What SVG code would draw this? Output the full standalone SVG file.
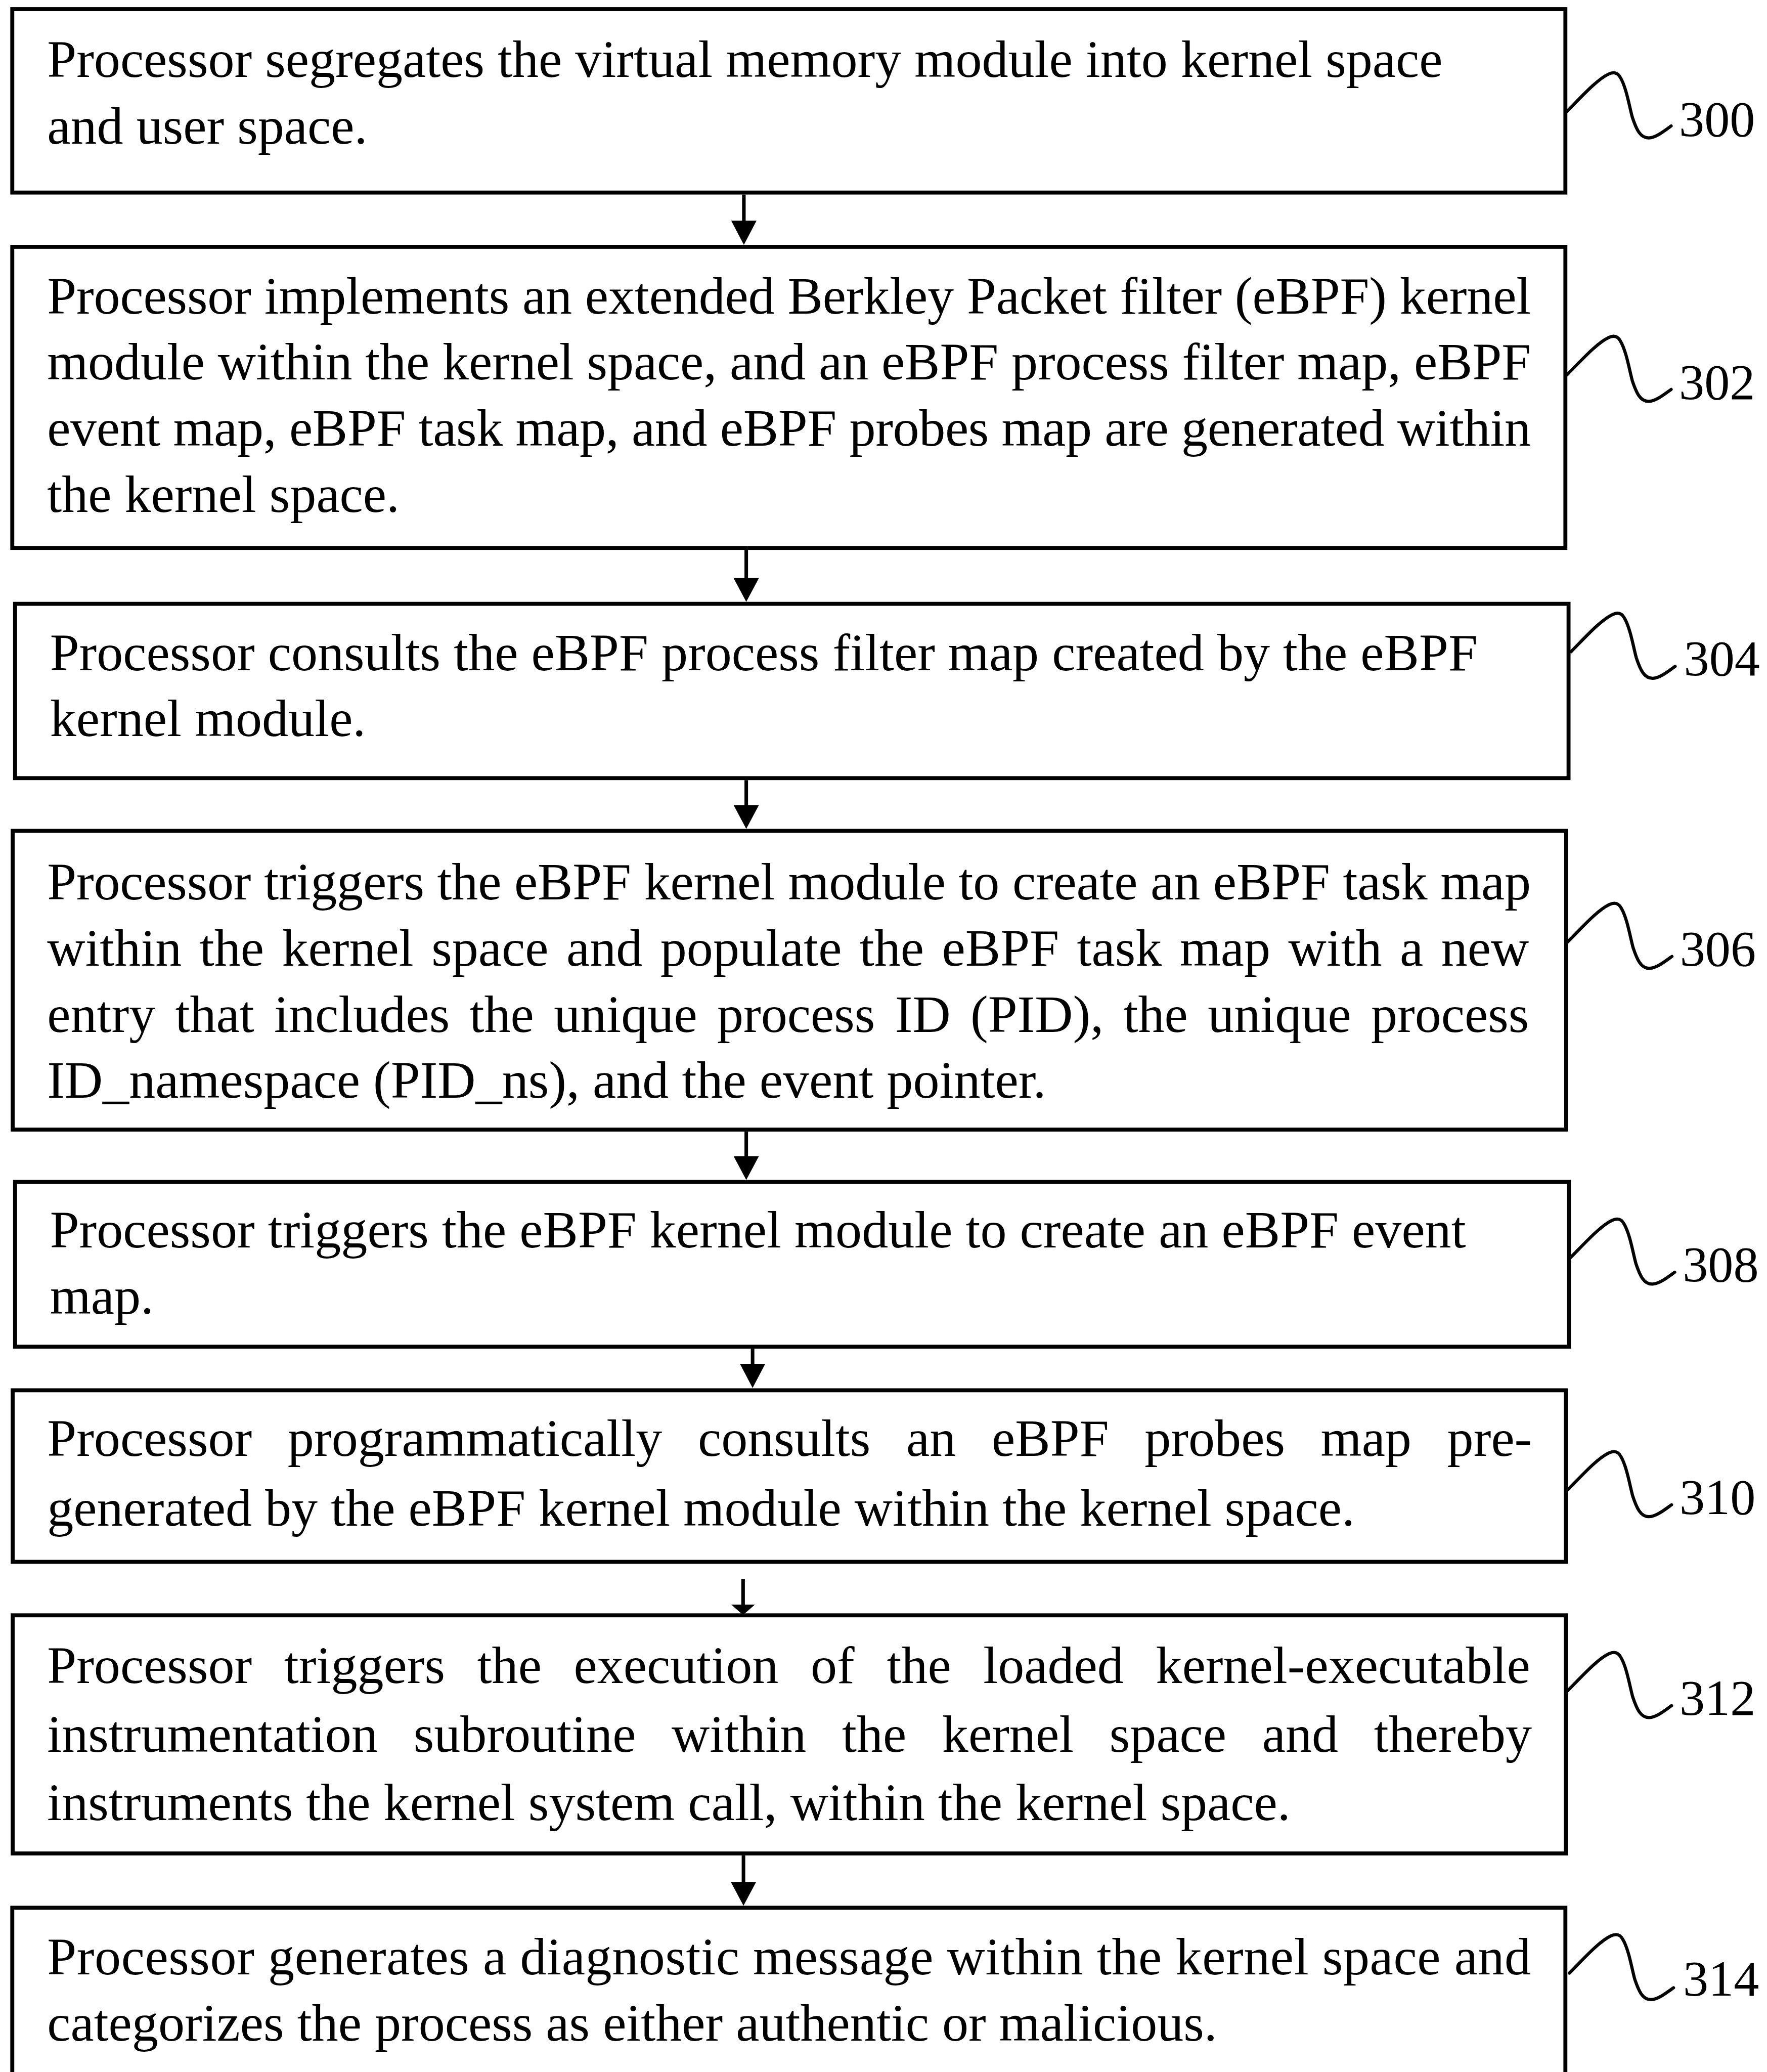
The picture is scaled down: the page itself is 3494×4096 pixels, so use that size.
<svg xmlns="http://www.w3.org/2000/svg" width="3494" height="4096" viewBox="0 0 3494 4096">
<style>
.box{fill:none;stroke:#000;stroke-width:10}
.t{font-family:"Liberation Serif","Times New Roman",serif;font-size:133px;fill:#000}
.lbl{font-family:"Liberation Serif","Times New Roman",serif;font-size:128px;fill:#000}
.sq{fill:none;stroke:#000;stroke-width:8;stroke-linecap:round;stroke-linejoin:round}
.shaft{stroke:#000;stroke-width:9;fill:none}
.head{fill:#000;stroke:none}
</style>
<defs>
<path id="squig" d="M0,0 C35,-35 75,-80 105,-94 C118,-100 128,-98 135,-85 C150,-60 158,-10 165,15 C175,45 185,68 207,67 C225,66 245,50 263,37"/>
</defs>
<rect width="3494" height="4096" fill="#fff"/>
<g transform="scale(0.78323)">
<g id="node-300">
<rect class="box" x="31" y="23" width="3921" height="463"/>
<text class="t" x="119" y="194">Processor segregates the virtual memory module into kernel space</text>
<text class="t" x="119" y="362">and user space.</text>
<use href="#squig" class="sq" transform="translate(3956,281)"/>
<text class="lbl" x="4239" y="344">300</text>
</g>
<g id="node-302">
<rect class="box" x="31" y="623" width="3921" height="760"/>
<text class="t" x="119" y="791" textLength="3746" lengthAdjust="spacing">Processor implements an extended Berkley Packet filter (eBPF) kernel</text>
<text class="t" x="119" y="958" textLength="3746" lengthAdjust="spacing">module within the kernel space, and an eBPF process filter map, eBPF</text>
<text class="t" x="119" y="1125" textLength="3746" lengthAdjust="spacing">event map, eBPF task map, and eBPF probes map are generated within</text>
<text class="t" x="119" y="1292">the kernel space.</text>
<use href="#squig" class="sq" transform="translate(3956,946)"/>
<text class="lbl" x="4239" y="1007">302</text>
</g>
<g id="node-304">
<rect class="box" x="38" y="1524" width="3922" height="440"/>
<text class="t" x="126" y="1692">Processor consults the eBPF process filter map created by the eBPF</text>
<text class="t" x="126" y="1858">kernel module.</text>
<use href="#squig" class="sq" transform="translate(3966,1645)"/>
<text class="lbl" x="4251" y="1705">304</text>
</g>
<g id="node-306">
<rect class="box" x="32" y="2097" width="3922" height="754"/>
<text class="t" x="119" y="2270" textLength="3746" lengthAdjust="spacing">Processor triggers the eBPF kernel module to create an eBPF task map</text>
<text class="t" x="119" y="2437" word-spacing="12">within the kernel space and populate the eBPF task map with a new</text>
<text class="t" x="119" y="2604" word-spacing="17">entry that includes the unique process ID (PID), the unique process</text>
<text class="t" x="119" y="2771">ID_namespace (PID_ns), and the event pointer.</text>
<use href="#squig" class="sq" transform="translate(3958,2377)"/>
<text class="lbl" x="4241" y="2437">306</text>
</g>
<g id="node-308">
<rect class="box" x="38" y="2983" width="3923" height="416"/>
<text class="t" x="126" y="3149">Processor triggers the eBPF kernel module to create an eBPF event</text>
<text class="t" x="126" y="3316">map.</text>
<use href="#squig" class="sq" transform="translate(3965,3174)"/>
<text class="lbl" x="4248" y="3234">308</text>
</g>
<g id="node-310">
<rect class="box" x="32" y="3509" width="3921" height="433"/>
<text class="t" x="119" y="3675" word-spacing="57">Processor programmatically consults an eBPF probes map pre-</text>
<text class="t" x="119" y="3851">generated by the eBPF kernel module within the kernel space.</text>
<use href="#squig" class="sq" transform="translate(3957,3761)"/>
<text class="lbl" x="4240" y="3821">310</text>
</g>
<g id="node-312">
<rect class="box" x="32" y="4077" width="3921" height="601"/>
<text class="t" x="119" y="4248" word-spacing="48">Processor triggers the execution of the loaded kernel-executable</text>
<text class="t" x="119" y="4421" word-spacing="57">instrumentation subroutine within the kernel space and thereby</text>
<text class="t" x="119" y="4594">instruments the kernel system call, within the kernel space.</text>
<use href="#squig" class="sq" transform="translate(3957,4268)"/>
<text class="lbl" x="4240" y="4328">312</text>
</g>
<g id="node-314">
<rect class="box" x="31" y="4815" width="3921" height="600"/>
<text class="t" x="119" y="4983" textLength="3746" lengthAdjust="spacing">Processor generates a diagnostic message within the kernel space and</text>
<text class="t" x="119" y="5150">categorizes the process as either authentic or malicious.</text>
<use href="#squig" class="sq" transform="translate(3962,4980)"/>
<text class="lbl" x="4249" y="5037">314</text>
</g>
<g id="connectors">
<line class="shaft" x1="1878" y1="491" x2="1878" y2="560"/>
<path class="head" d="M1846,557 L1910,557 L1878,618 Z"/>
<line class="shaft" x1="1884" y1="1388" x2="1884" y2="1462"/>
<path class="head" d="M1852,1459 L1916,1459 L1884,1519 Z"/>
<line class="shaft" x1="1884" y1="1969" x2="1884" y2="2035"/>
<path class="head" d="M1852,2032 L1916,2032 L1884,2092 Z"/>
<line class="shaft" x1="1884" y1="2856" x2="1884" y2="2921"/>
<path class="head" d="M1852,2918 L1916,2918 L1884,2978 Z"/>
<line class="shaft" x1="1900" y1="3404" x2="1900" y2="3445"/>
<path class="head" d="M1868,3442 L1932,3442 L1900,3503 Z"/>
<line class="shaft" x1="1876" y1="3985" x2="1876" y2="4052"/>
<path class="head" d="M1846,4050 L1906,4050 L1876,4076 Z"/>
<line class="shaft" x1="1877" y1="4683" x2="1877" y2="4753"/>
<path class="head" d="M1845,4750 L1909,4750 L1877,4810 Z"/>
</g>
</g>
</svg>
